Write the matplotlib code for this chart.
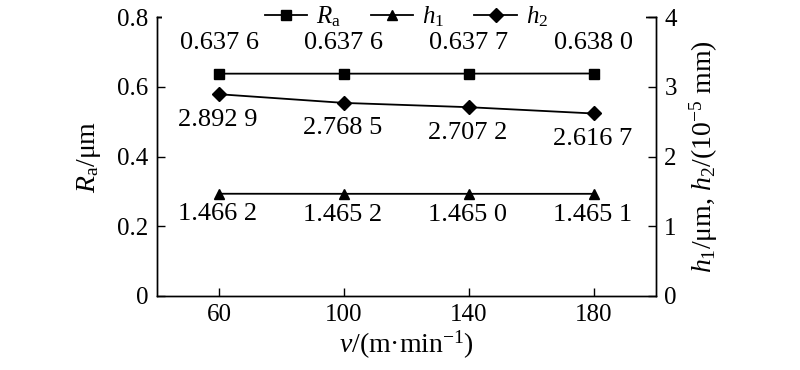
import matplotlib
matplotlib.use("Agg")
import matplotlib.pyplot as plt
from matplotlib.patches import Rectangle

plt.rcParams['font.family'] = ['Liberation Serif', 'DejaVu Serif']
plt.rcParams['mathtext.fontset'] = 'custom'
plt.rcParams['mathtext.rm'] = 'Liberation Serif'
plt.rcParams['mathtext.it'] = 'Liberation Serif:italic'

speeds = [60, 100, 140, 180]
ra = [0.6376, 0.6376, 0.6377, 0.6380]
h1 = [1.4662, 1.4652, 1.4650, 1.4651]
h2 = [2.8929, 2.7685, 2.7072, 2.6167]
ra_labels = ["0.637 6", "0.637 6", "0.637 7", "0.638 0"]
h1_labels = ["1.466 2", "1.465 2", "1.465 0", "1.465 1"]
h2_labels = ["2.892 9", "2.768 5", "2.707 2", "2.616 7"]

fs = 18
afs = 19
lfs = 20
gfs = 18
fig = plt.figure(figsize=(8, 3.7), dpi=100)
ax = fig.add_axes([0.196, 0.2, 0.624, 0.754])
ax2 = ax.twinx()

l1, = ax.plot(speeds, ra, color='black', lw=1.3, marker='s', ms=7.2, label=r'$R_\mathrm{a}$')
l2, = ax2.plot(speeds, h1, color='black', lw=1.3, marker='^', ms=7, label=r'$h_1$')
l3, = ax2.plot(speeds, h2, color='black', lw=1.3, marker='D', ms=7.5, label=r'$h_2$')

ax.set_xlim(40, 200)
ax.set_ylim(0, 0.8)
ax2.set_ylim(0, 4)
ax.set_xticks(speeds)
ax.set_yticks([0, 0.2, 0.4, 0.6, 0.8])
ax.set_yticklabels(['0', '0.2', '0.4', '0.6', '0.8'])
ax2.set_yticks([0, 1, 2, 3, 4])

for a in (ax, ax2):
    a.tick_params(direction='in', length=6, width=1, labelsize=fs, pad=6)
    for s in a.spines.values():
        s.set_linewidth(1)

ax.set_xlabel(r'$v$/(m·min$^{-1}$)', fontsize=lfs, labelpad=2)
ax.set_ylabel(r'$R_\mathrm{a}$/μm', fontsize=lfs, labelpad=10)
ax2.set_ylabel(r'$h_1$/μm, $h_2$/(10$^{-5}$ mm)', fontsize=lfs, labelpad=8)

for x, y, t in zip(speeds, ra, ra_labels):
    ax.annotate(t, (x, y), xytext=(0, 14), textcoords='offset points',
                ha='center', va='bottom', fontsize=afs)
for x, y, t in zip(speeds, h2, h2_labels):
    ax2.annotate(t, (x, y), xytext=(-1, -10.5), textcoords='offset points',
                 ha='center', va='top', fontsize=afs)
for x, y, t in zip(speeds, h1, h1_labels):
    ax2.annotate(t, (x, y), xytext=(-1, -7), textcoords='offset points',
                 ha='center', va='top', fontsize=afs)

# white band hiding most of the top spine behind the legend
ax2.add_patch(Rectangle((0.01, 0.96), 0.97, 0.08, transform=ax2.transAxes,
                        facecolor='white', edgecolor='none', clip_on=False, zorder=5))
leg = ax2.legend(handles=[l1, l2, l3], loc='center', bbox_to_anchor=(0.5, 1.0),
                 ncol=3, frameon=False, fontsize=gfs, handlelength=1.7,
                 columnspacing=1.2, handletextpad=0.35, borderpad=0.1)
leg.set_zorder(6)

fig.savefig('out.png', dpi=100)
